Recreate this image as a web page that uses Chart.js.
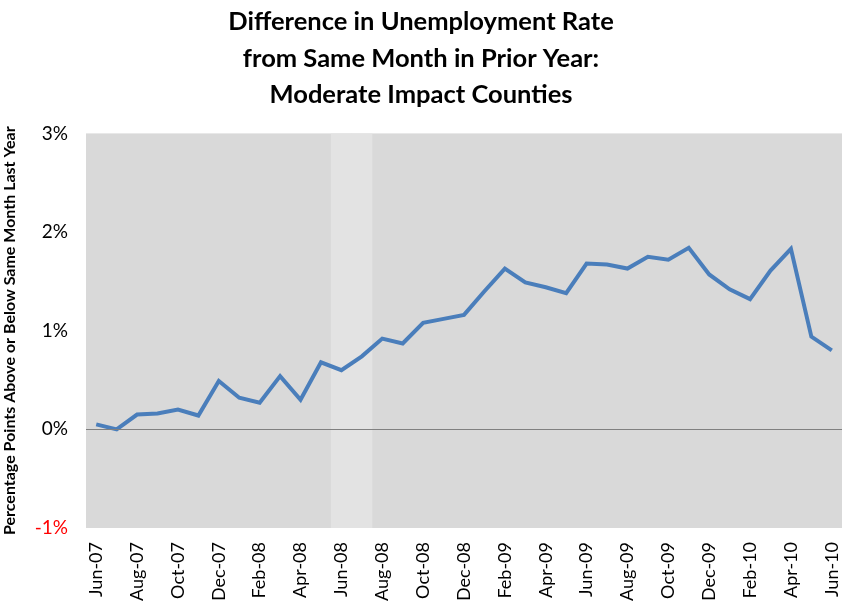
<!DOCTYPE html>
<html>
<head>
<meta charset="utf-8">
<script src="https://cdn.jsdelivr.net/npm/chart.js@4"></script>
<style>
  html, body { margin: 0; padding: 0; background: #fff; }
  #wrap { width: 842px; height: 607px; }
</style>
</head>
<body>
<div id="wrap"><canvas id="myChart"></canvas></div>
<script>
// months, Jun-07 .. Jun-10
const months = ['Jun-07','Jul-07','Aug-07','Sep-07','Oct-07','Nov-07','Dec-07',
  'Jan-08','Feb-08','Mar-08','Apr-08','May-08','Jun-08','Jul-08','Aug-08','Sep-08','Oct-08','Nov-08','Dec-08',
  'Jan-09','Feb-09','Mar-09','Apr-09','May-09','Jun-09','Jul-09','Aug-09','Sep-09','Oct-09','Nov-09','Dec-09',
  'Jan-10','Feb-10','Mar-10','Apr-10','May-10','Jun-10'];

// difference in unemployment rate, percentage points
const diffValues = [0.05, 0.00, 0.15, 0.16, 0.20, 0.14, 0.49,
  0.32, 0.27, 0.54, 0.30, 0.68, 0.60, 0.74, 0.92, 0.87, 1.08, 1.12, 1.16,
  1.40, 1.63, 1.49, 1.44, 1.38, 1.68, 1.67, 1.63, 1.75, 1.72, 1.84, 1.57,
  1.42, 1.32, 1.61, 1.83, 0.94, 0.80];

// shaded months (lighter band)
const shadedMonths = ['Jun-08', 'Jul-08'];

const yTicks = [-1, 0, 1, 2, 3];

const bandData = months.map(m => shadedMonths.includes(m) ? [yTicks[0], yTicks[yTicks.length - 1]] : null);

const plotBg = {
  id: 'plotBg',
  beforeDraw(chart) {
    const a = chart.chartArea;
    const c = chart.ctx;
    c.save();
    c.fillStyle = '#d9d9d9';
    c.fillRect(a.left, a.top, a.right - a.left, a.bottom - a.top);
    c.restore();
  }
};

const ctx = document.getElementById('myChart').getContext('2d');

new Chart(ctx, {
  data: {
    labels: months,
    datasets: [{
      type: 'line',
      label: 'Moderate Impact Counties',
      data: diffValues,
      borderColor: '#4a7ebb',
      borderWidth: 4,
      pointRadius: 0,
      tension: 0,
      order: 1
    }, {
      type: 'bar',
      label: 'band',
      data: bandData,
      backgroundColor: '#e3e3e3',
      categoryPercentage: 1,
      barPercentage: 1,
      order: 2
    }]
  },
  options: {
    responsive: true,
    maintainAspectRatio: false,
    animation: false,
    layout: { padding: { left: 0, right: 0, top: 0, bottom: 0 } },
    plugins: {
      legend: { display: false },
      tooltip: { enabled: false },
      title: {
        display: true,
        text: ['Difference in Unemployment Rate', 'from Same Month in Prior Year:', 'Moderate Impact Counties'],
        color: '#000',
        font: { family: 'Lato', size: 25.5, weight: 'bold', lineHeight: 1.43 },
        padding: { top: 4, bottom: 20 }
      }
    },
    scales: {
      x: {
        offset: true,
        grid: { display: false },
        border: { display: false },
        ticks: {
          autoSkip: false,
          maxRotation: 90,
          minRotation: 90,
          padding: 6,
          color: '#000',
          font: { family: 'Lato', size: 18 },
          callback: function(v, i) { return i % 2 === 0 ? this.getLabelForValue(v) : ''; }
        },
        afterFit(s) {
          s.height = 79;
          s.paddingLeft = 0;
          s.paddingRight = 0;
        }
      },
      y: {
        min: -1,
        max: 3,
        border: { display: false },
        grid: {
          z: 1,
          drawTicks: false,
          color: c => c.tick && c.tick.value === 0 ? '#808080' : 'rgba(0,0,0,0)'
        },
        ticks: {
          stepSize: 1,
          padding: 18,
          color: c => c.tick.value < 0 ? '#ff0000' : '#000',
          font: { family: 'Lato', size: 19 },
          callback: v => v + '%'
        },
        title: {
          display: true,
          text: 'Percentage Points Above or Below Same Month Last Year',
          color: '#000',
          font: { family: 'Lato', size: 16, weight: 'bold' },
          padding: 0
        },
        afterFit(s) { s.width = 86; }
      }
    }
  },
  plugins: [plotBg]
});
</script>
</body>
</html>
